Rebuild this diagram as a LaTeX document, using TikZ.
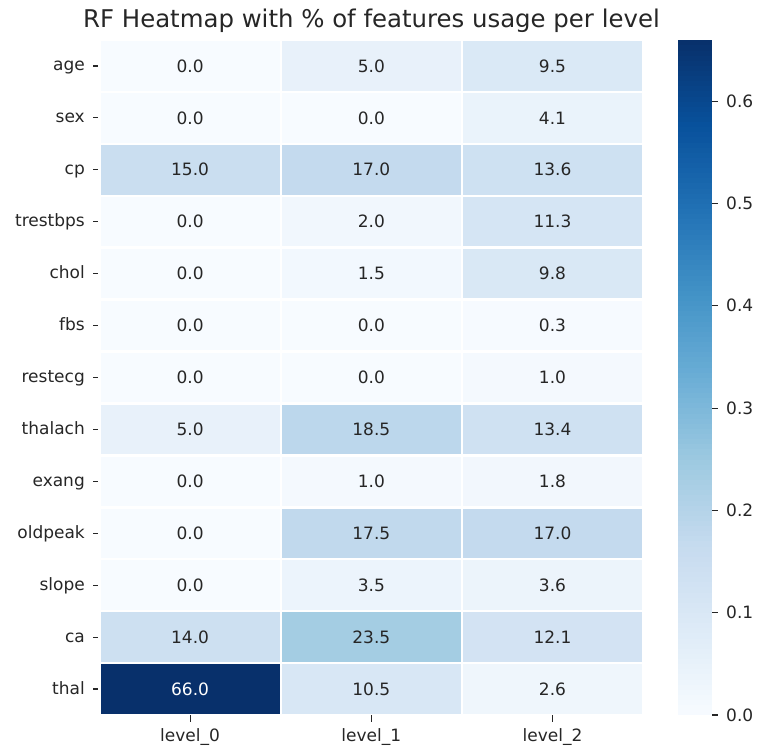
\documentclass[tikz,border=0pt]{standalone}
\usepackage{fontspec}
\setmainfont{DejaVu Sans}

% Blues colormap stops
\definecolor{B0}{HTML}{F7FBFF}
\definecolor{B1}{HTML}{DEEBF7}
\definecolor{B2}{HTML}{C6DBEF}
\definecolor{B3}{HTML}{9ECAE1}
\definecolor{B4}{HTML}{6BAED6}
\definecolor{B5}{HTML}{4292C6}
\definecolor{B6}{HTML}{2171B5}
\definecolor{B7}{HTML}{08519C}
\definecolor{B8}{HTML}{08306B}
\definecolor{annot}{HTML}{262626}

% \bluesat{fraction}{colour name}
\newcommand\bluesat[2]{%
  \pgfmathsetmacro\cmT{min(max(#1,0),1)*8}%
  \pgfmathtruncatemacro\cmK{min(floor(\cmT),7)}%
  \pgfmathtruncatemacro\cmKK{\cmK+1}%
  \pgfmathtruncatemacro\cmF{round((\cmT-\cmK)*100)}%
  \colorlet{#2}{B\cmKK!\cmF!B\cmK}}

\newcommand\labfont{\fontsize{17}{20}\selectfont}

\tikzset{
  cell/.style={draw=white, line width=2.4pt, minimum width=181.2pt,
    minimum height=51.9pt, inner sep=0pt, font=\labfont},
  ylab/.style={anchor=base east, inner sep=0pt, text=annot, font=\labfont},
  xlab/.style={anchor=north, inner sep=0pt, text=annot, font=\labfont},
  cblab/.style={anchor=base west, inner sep=0pt, text=annot, font=\labfont},
  tickmark/.style={draw=annot, line width=1.1pt},
}

\begin{document}
\begin{tikzpicture}[x=1pt, y=-1pt]
  \useasboundingbox (0,0) rectangle (759,748);

  \node[anchor=base, inner sep=0pt, text=annot, font=\fontsize{24.4}{29}\selectfont]
    (title) at (371.5,27) {RF Heatmap with \% of features usage per level};

  % rows of the heatmap
  \foreach \name/\va/\vb/\vc [count=\i from 0] in {
      age/0.0/5.0/9.5, sex/0.0/0.0/4.1, cp/15.0/17.0/13.6,
      trestbps/0.0/2.0/11.3, chol/0.0/1.5/9.8, fbs/0.0/0.0/0.3,
      restecg/0.0/0.0/1.0, thalach/5.0/18.5/13.4, exang/0.0/1.0/1.8,
      oldpeak/0.0/17.5/17.0, slope/0.0/3.5/3.6, ca/14.0/23.5/12.1,
      thal/66.0/10.5/2.6} {
    \pgfmathsetmacro\yc{40+(\i+0.5)*51.92}
    \node[ylab] (row\i) at (85,\yc+5) {\name};
    \draw[tickmark] (93,\yc) -- (99.5,\yc);
    \foreach \v [count=\j from 0] in {\va,\vb,\vc} {
      \bluesat{\v/66}{cellfill}
      \ifdim\v pt>40pt \def\tc{white}\else\def\tc{annot}\fi
      \node[cell, fill=cellfill, text=\tc] (c\i\j)
        at ({99.5+(\j+0.5)*181.2},\yc) {\v};
    }
  }

  % column labels
  \foreach \j in {0,1,2} {
    \pgfmathsetmacro\xc{99.5+(\j+0.5)*181.2}
    \draw[tickmark] (\xc,715) -- (\xc,721.5);
    \node[xlab] (col\j) at (\xc,728) {level\_\j};
  }

  % colour bar
  \foreach \k in {0,...,131} {
    \bluesat{(\k+0.5)*0.005/0.66}{barfill}
    \fill[barfill] (678,{715-\k*5.1136+0.3}) rectangle (712,{715-(\k+1)*5.1136});
  }
  \foreach \t in {0,...,6} {
    \pgfmathsetmacro\yt{715-\t*102.27}
    \draw[tickmark] (712,\yt) -- (718,\yt);
    \node[cblab] (cb\t) at (726,\yt+6) {0.\t};
  }
\end{tikzpicture}
\end{document}
